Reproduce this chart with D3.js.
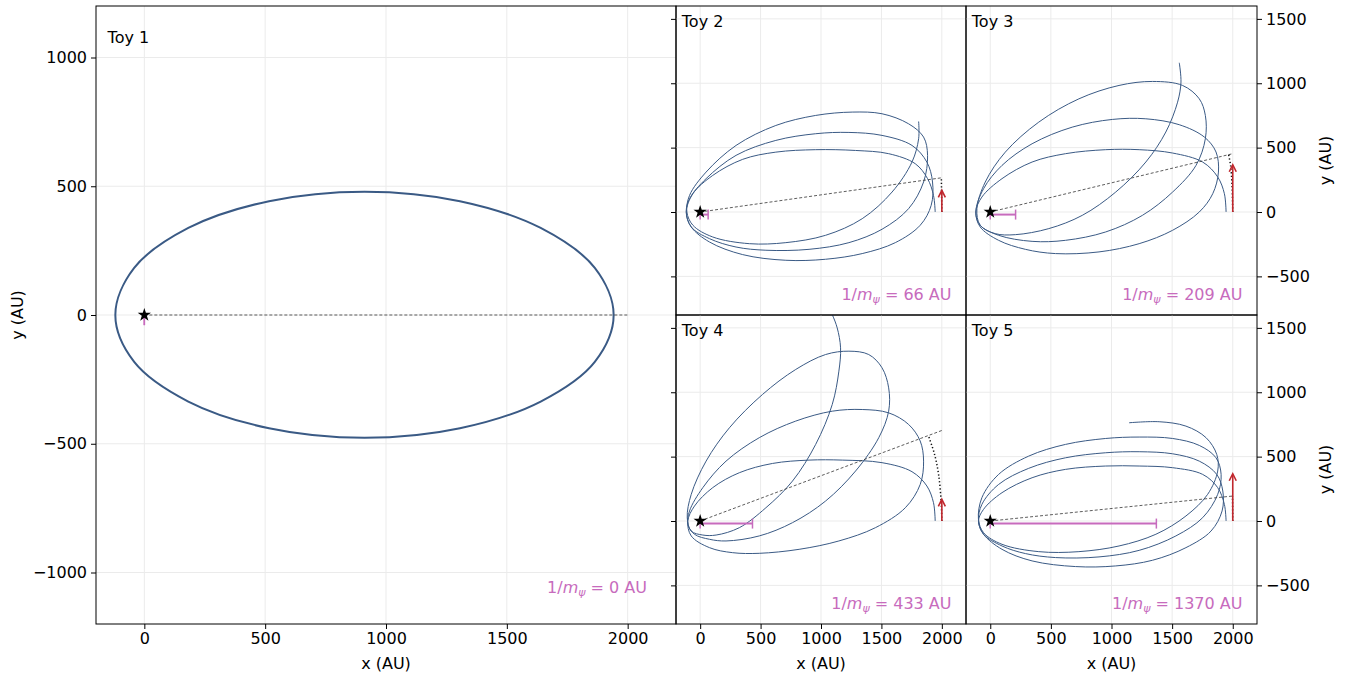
<!DOCTYPE html>
<html>
<head>
<meta charset="utf-8">
<script src="https://cdn.jsdelivr.net/npm/d3@7"></script>
<style>
  body { margin: 0; background: #fff; }
  text { font-family: "DejaVu Sans", sans-serif; }
</style>
</head>
<body>
<svg id="chart" width="1353" height="677"></svg>
<script>
// ---- data (AU) ----
var toyNames = ["Toy 1", "Toy 2", "Toy 3", "Toy 4", "Toy 5"];
var invMass = [0, 66, 209, 433, 1370];          // 1/m_psi, AU
var kickLength = [0, 168, 367, 168, 367];        // red velocity arrow
var pointerEnd = [[2000, 0], [2000, 266], [2000, 453], [2000, 703], [2000, 194]];
var xTicks = [0, 500, 1000, 1500, 2000];
var yTicksBig = [-1000, -500, 0, 500, 1000];
var yTicksSmall = [-500, 0, 500, 1000, 1500];

var orbit1 = [[1942, 0], [1864, 183], [1640, 338], [1306, 442], [911, 479], [516, 442], [182, 338], [-42, 183],
  [-120, 0], [-42, -182], [182, -336], [516, -440], [911, -477], [1306, -440], [1640, -336], [1864, -182]];

var orbit2 = [[1945, 0], [1931, 129], [1882, 259], [1780, 375], [1560, 453], [1286, 478], [956, 484], [626, 465],
  [352, 409], [104, 284], [-60, 142], [-115, 0], [-74, -116], [77, -233], [352, -331], [709, -375], [1038, -367],
  [1341, -323], [1615, -238], [1821, -103], [1912, 52], [1923, 233], [1876, 388], [1753, 517], [1505, 595],
  [1231, 618], [956, 608], [626, 556], [297, 440], [49, 259], [-88, 103], [-115, 0], [-74, -116], [77, -207],
  [297, -272], [544, -297], [901, -290], [1231, -238], [1505, -134], [1725, 26], [1849, 233], [1882, 440],
  [1849, 582], [1725, 685], [1505, 763], [1258, 776], [956, 750], [626, 672], [297, 517], [49, 310], [-88, 129],
  [-110, 0], [-60, -103], [104, -194], [407, -246], [709, -238], [1038, -181], [1341, -52], [1588, 155],
  [1753, 388], [1808, 569], [1808, 703]];

var orbit3 = [[1945, 0], [1931, 142], [1876, 272], [1752, 388], [1504, 458], [1228, 484], [952, 484], [621, 453],
  [345, 388], [97, 259], [-69, 116], [-119, 0], [-83, -116], [69, -220], [290, -290], [538, -323], [897, -310],
  [1228, -246], [1504, -142], [1724, 0], [1835, 142], [1882, 310], [1862, 466], [1766, 582], [1559, 678],
  [1283, 724], [1007, 719], [676, 659], [345, 530], [97, 362], [-55, 181], [-119, 0], [-83, -103], [69, -181],
  [345, -228], [621, -220], [952, -155], [1255, -26], [1504, 155], [1697, 362], [1774, 569], [1774, 750],
  [1724, 879], [1586, 983], [1338, 1014], [1062, 983], [731, 879], [400, 698], [124, 465], [-41, 233],
  [-110, 26], [-83, -103], [41, -168], [207, -176], [483, -129], [759, -26], [1035, 155], [1283, 388],
  [1448, 621], [1545, 853], [1573, 1009], [1559, 1159]];

var orbit4 = [[1945, 0], [1931, 142], [1876, 272], [1753, 383], [1505, 453], [1176, 473], [901, 473], [599, 447],
  [324, 375], [104, 259], [-47, 116], [-102, 0], [-74, -116], [77, -207], [269, -246], [489, -251], [819, -220],
  [1148, -155], [1450, -52], [1698, 103], [1821, 284], [1849, 465], [1821, 621], [1725, 750], [1560, 840],
  [1341, 866], [1093, 853], [791, 776], [489, 647], [214, 465], [22, 259], [-88, 78], [-102, -26], [-47, -103],
  [77, -142], [214, -155], [489, -116], [764, -13], [1038, 155], [1286, 388], [1478, 647], [1560, 853],
  [1560, 1034], [1505, 1190], [1395, 1293], [1231, 1319], [1038, 1293], [791, 1177], [516, 983], [242, 724],
  [49, 465], [-74, 207], [-107, 26], [-74, -78], [22, -109], [132, -109], [324, -52], [544, 103], [764, 310],
  [956, 595], [1093, 905], [1148, 1164], [1162, 1345], [1134, 1500], [1093, 1603], [1038, 1707]];

var orbit5 = [[1945, 0], [1931, 129], [1876, 259], [1752, 362], [1504, 414], [1228, 427], [952, 427], [621, 401],
  [345, 336], [97, 220], [-55, 91], [-97, 0], [-55, -103], [97, -220], [345, -310], [704, -354], [1035, -349],
  [1338, -305], [1614, -207], [1821, -78], [1912, 78], [1918, 233], [1868, 362], [1724, 465], [1504, 522],
  [1228, 538], [952, 530], [621, 491], [317, 409], [69, 284], [-69, 129], [-97, 0], [-55, -103], [97, -194],
  [290, -253], [538, -284], [897, -279], [1228, -228], [1531, -116], [1752, 26], [1876, 207], [1904, 362],
  [1862, 491], [1724, 587], [1504, 641], [1228, 652], [952, 641], [621, 595], [317, 504], [69, 362], [-69, 181],
  [-97, 13], [-55, -91], [97, -181], [400, -238], [731, -238], [1062, -194], [1366, -103], [1614, 39],
  [1793, 207], [1876, 388], [1868, 517], [1780, 647], [1614, 737], [1393, 771], [1145, 763]];

var drift = [
  [],
  [[2000, 0], [1996, 266]],
  [[2000, 0], [1994, 207], [1982, 362], [1965, 450]],
  [[2000, 0], [1994, 155], [1973, 362], [1940, 517], [1890, 659]],
  [[2000, 0], [1998, 194]]
];
var orbits = [orbit1, orbit2, orbit3, orbit4, orbit5];

// ---- layout ----
var panels = [
  { x: 96, y: 6, w: 580, h: 618, yDom: [-1200, 1200], yTicks: yTicksBig, xAxis: true, yAxis: "left" },
  { x: 676, y: 6, w: 290, h: 309, yDom: [-800, 1600], yTicks: yTicksSmall, xAxis: false, yAxis: "leftBare" },
  { x: 966, y: 6, w: 291, h: 309, yDom: [-800, 1600], yTicks: yTicksSmall, xAxis: false, yAxis: "right" },
  { x: 676, y: 315, w: 290, h: 309, yDom: [-800, 1600], yTicks: yTicksSmall, xAxis: true, yAxis: "leftBare" },
  { x: 966, y: 315, w: 291, h: 309, yDom: [-800, 1600], yTicks: yTicksSmall, xAxis: true, yAxis: "right" }
];

var svg = d3.select("#chart"),
  fontSize = 16,
  orbitColor = "#3a5a85",
  pink = "#c76bbd",
  red = "#c0272d",
  fmt = function(d) { return d < 0 ? "\u2212" + Math.abs(d) : String(d); };

panels.forEach(function(p, i) {
  var x = d3.scaleLinear().domain([-200, 2200]).range([p.x, p.x + p.w]),
    y = d3.scaleLinear().domain(p.yDom).range([p.y + p.h, p.y]),
    line = d3.line().x(function(d) { return x(d[0]); }).y(function(d) { return y(d[1]); }),
    g = svg.append("g"),
    clipId = "clip" + i;

  svg.append("clipPath").attr("id", clipId)
    .append("rect").attr("x", p.x).attr("y", p.y).attr("width", p.w).attr("height", p.h);

  var inner = g.append("g").attr("clip-path", "url(#" + clipId + ")");

  // grid
  inner.selectAll(".gx").data(xTicks).enter().append("line")
    .attr("x1", x).attr("x2", x).attr("y1", p.y).attr("y2", p.y + p.h)
    .attr("stroke", "#ebebeb").attr("stroke-width", 1);
  inner.selectAll(".gy").data(p.yTicks).enter().append("line")
    .attr("y1", y).attr("y2", y).attr("x1", p.x).attr("x2", p.x + p.w)
    .attr("stroke", "#ebebeb").attr("stroke-width", 1);

  // orbit
  inner.append("path")
    .datum(orbits[i])
    .attr("d", line.curve(i === 0 ? d3.curveCatmullRomClosed : d3.curveCatmullRom.alpha(0.5)))
    .attr("fill", "none")
    .attr("stroke", orbitColor)
    .attr("stroke-width", i === 0 ? 2 : 1);

  var straight = d3.line().x(function(d) { return x(d[0]); }).y(function(d) { return y(d[1]); });

  // pointer from star
  inner.append("path")
    .datum([[0, 0], pointerEnd[i]])
    .attr("d", straight)
    .attr("stroke", "#333").attr("stroke-width", 0.8)
    .attr("stroke-dasharray", "3,2").attr("fill", "none");

  // drift of the perturber
  if (drift[i].length) {
    inner.append("path")
      .datum(drift[i])
      .attr("d", d3.line().x(function(d) { return x(d[0]); }).y(function(d) { return y(d[1]); }).curve(d3.curveCatmullRom))
      .attr("fill", "none").attr("stroke", "#111").attr("stroke-width", 1.5)
      .attr("stroke-dasharray", "1.3,2.2");
  }

  // red kick arrow
  if (kickLength[i] > 0) {
    var ax = x(2000), ay0 = y(0), ay1 = y(kickLength[i]);
    inner.append("line")
      .attr("x1", ax).attr("x2", ax).attr("y1", ay0).attr("y2", ay1 + 1)
      .attr("stroke", red).attr("stroke-width", 1.6);
    inner.append("path")
      .attr("d", "M" + (ax - 3.5) + "," + (ay1 + 7) + "L" + ax + "," + ay1 + "L" + (ax + 3.5) + "," + (ay1 + 7))
      .attr("fill", "none").attr("stroke", red).attr("stroke-width", 1.6);
  }

  // 1/m_psi bar
  var by = y(-20), bx0 = x(0), bx1 = x(invMass[i]);
  inner.append("line").attr("x1", bx0).attr("x2", bx1).attr("y1", by).attr("y2", by)
    .attr("stroke", pink).attr("stroke-width", 2);
  inner.selectAll(".cap").data([bx0, bx1]).enter().append("line")
    .attr("x1", function(d) { return d; }).attr("x2", function(d) { return d; })
    .attr("y1", by - 5).attr("y2", by + 5)
    .attr("stroke", pink).attr("stroke-width", 1.5);

  // star
  inner.append("path")
    .attr("d", d3.symbol().type(d3.symbolStar).size(55))
    .attr("transform", "translate(" + x(0) + "," + y(0) + ")")
    .attr("fill", "#000");

  // frame
  g.append("rect").attr("x", p.x).attr("y", p.y).attr("width", p.w).attr("height", p.h)
    .attr("fill", "none").attr("stroke", "#000").attr("stroke-width", 1);

  // labels
  g.append("text")
    .attr("x", p.x + p.w * 0.02).attr("y", p.y + p.h * 0.05)
    .attr("dy", "0.36em")
    .attr("font-size", fontSize)
    .text(toyNames[i]);

  var mt = g.append("text")
    .attr("x", p.x + p.w * 0.95).attr("y", p.y + p.h * 0.95)
    .attr("text-anchor", "end")
    .attr("font-size", fontSize)
    .attr("fill", pink);
  mt.append("tspan").text("1/");
  mt.append("tspan").attr("font-style", "italic").text("m");
  mt.append("tspan").attr("font-style", "italic").attr("font-size", 11).attr("dy", 3).text("\u03c8");
  mt.append("tspan").attr("dy", -3).text(" = " + invMass[i] + " AU");

  // axes
  if (p.xAxis) {
    var xa = g.append("g").attr("transform", "translate(0," + (p.y + p.h) + ")")
      .call(d3.axisBottom(x).tickValues(xTicks).tickFormat(fmt).tickSize(5).tickPadding(4));
    xa.select(".domain").remove();
    xa.selectAll("text").attr("font-size", fontSize).attr("font-family", "DejaVu Sans, sans-serif").attr("fill", "#000");
    g.append("text")
      .attr("x", p.x + p.w / 2).attr("y", 669)
      .attr("text-anchor", "middle").attr("font-size", fontSize)
      .text("x (AU)");
  }
  if (p.yAxis === "left" || p.yAxis === "leftBare") {
    var ya = g.append("g").attr("transform", "translate(" + p.x + ",0)")
      .call(d3.axisLeft(y).tickValues(p.yTicks).tickFormat(p.yAxis === "left" ? fmt : "").tickSize(5).tickPadding(4));
    ya.select(".domain").remove();
    ya.selectAll("text").attr("font-size", fontSize).attr("font-family", "DejaVu Sans, sans-serif").attr("fill", "#000");
    if (p.yAxis === "left") {
      g.append("text")
        .attr("transform", "translate(23," + (p.y + p.h / 2) + ") rotate(-90)")
        .attr("text-anchor", "middle").attr("font-size", fontSize)
        .text("y (AU)");
    }
  }
  if (p.yAxis === "right") {
    var yr = g.append("g").attr("transform", "translate(" + (p.x + p.w) + ",0)")
      .call(d3.axisRight(y).tickValues(p.yTicks).tickFormat(fmt).tickSize(5).tickPadding(4));
    yr.select(".domain").remove();
    yr.selectAll("text").attr("font-size", fontSize).attr("font-family", "DejaVu Sans, sans-serif").attr("fill", "#000");
    g.append("text")
      .attr("transform", "translate(1331," + (p.y + p.h / 2) + ") rotate(-90)")
      .attr("text-anchor", "middle").attr("font-size", fontSize)
      .text("y (AU)");
  }
});
</script>
</body>
</html>
